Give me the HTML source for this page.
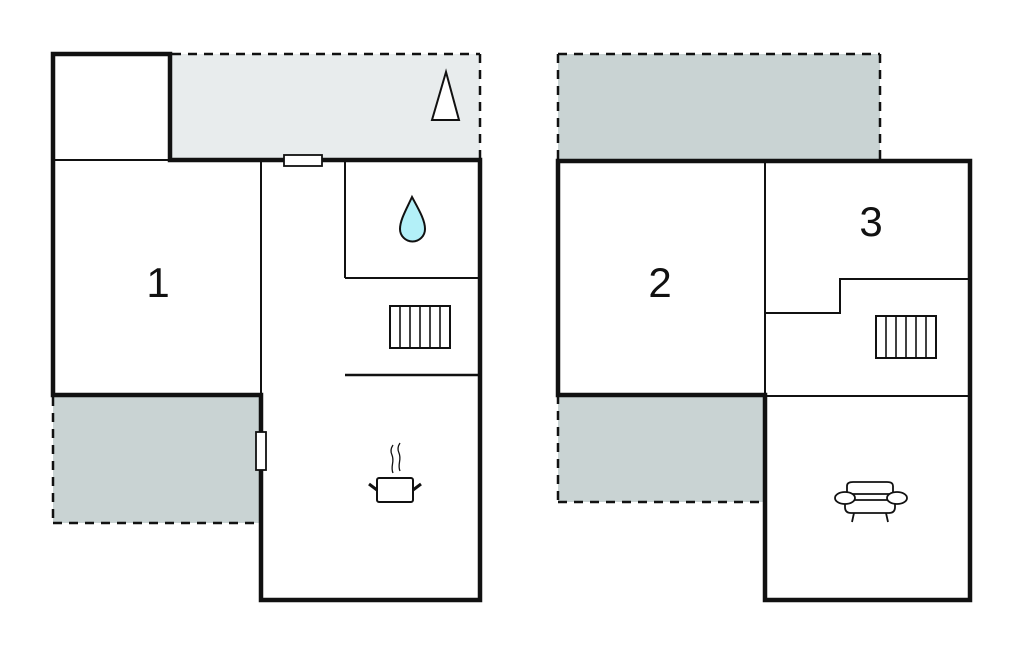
<!DOCTYPE html>
<html><head><meta charset="utf-8"><style>
html,body{margin:0;padding:0;background:#fff;}
svg{display:block;}
text{font-family:"Liberation Sans",sans-serif;font-size:42px;fill:#111;}
</style></head><body>
<svg width="1024" height="652" viewBox="0 0 1024 652" xmlns="http://www.w3.org/2000/svg">
<!-- LEFT PLAN -->
<rect x="170" y="54" width="310" height="106" fill="#e8eced"/>
<rect x="53" y="395" width="208" height="128" fill="#c9d3d3"/>
<g stroke="#111" stroke-width="2.5" stroke-dasharray="9,7" fill="none">
<line x1="172" y1="54" x2="480" y2="54"/>
<line x1="480" y1="54" x2="480" y2="160"/>
<line x1="53" y1="397" x2="53" y2="523"/>
<line x1="53" y1="523" x2="261" y2="523"/>
</g>
<g stroke="#111" stroke-width="4.5" fill="none" stroke-linecap="square">
<polyline points="53,395 53,54 170,54 170,160 480,160 480,600 261,600 261,395 53,395"/>
</g>
<g stroke="#111" stroke-width="2" fill="none">
<line x1="53" y1="160" x2="170" y2="160"/>
<line x1="261" y1="160" x2="261" y2="395"/>
<line x1="345" y1="160" x2="345" y2="278"/>
<line x1="345" y1="278" x2="480" y2="278"/>
</g>
<line x1="345" y1="375" x2="480" y2="375" stroke="#111" stroke-width="2.5"/>
<rect x="284" y="155" width="38" height="11" fill="#fff" stroke="#111" stroke-width="1.8"/>
<rect x="256" y="432" width="10" height="38" fill="#fff" stroke="#111" stroke-width="1.8"/>
<polygon points="446,72 432,120 459,120" fill="#fff" stroke="#111" stroke-width="2"/>
<path d="M412,197 C406,210 400,220 400,229 A12.5,12.5 0 0 0 425,229 C425,220 419,210 412,197 Z" fill="#b3f0f8" stroke="#111" stroke-width="2"/>
<g stroke="#111" stroke-width="1.6" fill="#fff">
<rect x="390" y="306" width="60" height="42" stroke-width="2"/>
<line x1="400" y1="306" x2="400" y2="348"/><line x1="410" y1="306" x2="410" y2="348"/>
<line x1="420" y1="306" x2="420" y2="348"/><line x1="430" y1="306" x2="430" y2="348"/>
<line x1="440" y1="306" x2="440" y2="348"/>
</g>
<g stroke="#111" fill="none">
<rect x="377" y="478" width="36" height="24" rx="2" stroke-width="2"/>
<line x1="369" y1="484" x2="377" y2="490" stroke-width="3"/>
<line x1="413" y1="490" x2="421" y2="484" stroke-width="3"/>
<path d="M393,473 C390,466 395,462 392,455 C390,451 391,448 393,445" stroke-width="1.3"/>
<path d="M400,471 C397,464 402,460 399,453 C397,449 398,446 400,443" stroke-width="1.3"/>
</g>
<text x="158" y="297" text-anchor="middle">1</text>

<!-- RIGHT PLAN -->
<rect x="558" y="54" width="322" height="106" fill="#c9d3d3"/>
<rect x="558" y="395" width="207" height="107" fill="#c9d3d3"/>
<g stroke="#111" stroke-width="2.5" stroke-dasharray="9,7" fill="none">
<line x1="558" y1="54" x2="880" y2="54"/>
<line x1="558" y1="54" x2="558" y2="160"/>
<line x1="880" y1="54" x2="880" y2="160"/>
<line x1="558" y1="502" x2="765" y2="502"/>
<line x1="558" y1="395" x2="558" y2="502"/>
</g>
<g stroke="#111" stroke-width="4.5" fill="none" stroke-linecap="square">
<polyline points="558,395 558,161 970,161 970,600 765,600 765,395 558,395"/>
</g>
<g stroke="#111" stroke-width="2" fill="none">
<line x1="765" y1="161" x2="765" y2="395"/>
<line x1="765" y1="396" x2="970" y2="396"/>
<polyline points="765,313 840,313 840,279 970,279"/>
</g>
<g stroke="#111" stroke-width="1.6" fill="#fff">
<rect x="876" y="316" width="60" height="42" stroke-width="2"/>
<line x1="886" y1="316" x2="886" y2="358"/><line x1="896" y1="316" x2="896" y2="358"/>
<line x1="906" y1="316" x2="906" y2="358"/><line x1="916" y1="316" x2="916" y2="358"/>
<line x1="926" y1="316" x2="926" y2="358"/>
</g>
<g stroke="#111" stroke-width="1.8" fill="#fff">
<path d="M847,494 L847,486 Q847,482 853,482 L887,482 Q893,482 893,486 L893,494 Z"/>
<path d="M845,500 L845,507 Q845,513 851,513 L889,513 Q895,513 895,507 L895,500 Z"/>
<ellipse cx="845" cy="498" rx="10" ry="6"/>
<ellipse cx="897" cy="498" rx="10" ry="6"/>
<line x1="854" y1="513" x2="852" y2="522"/>
<line x1="886" y1="513" x2="888" y2="522"/>
</g>
<text x="660" y="297" text-anchor="middle">2</text>
<text x="871" y="236" text-anchor="middle">3</text>
</svg>
</body></html>
